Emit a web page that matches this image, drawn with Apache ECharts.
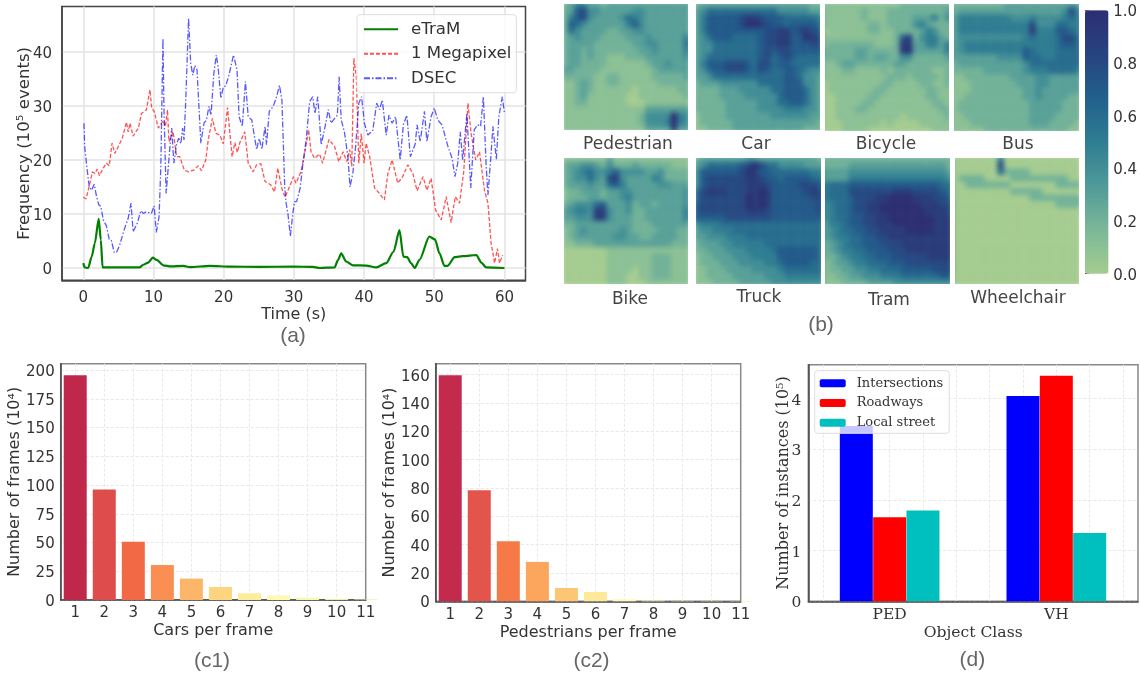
<!DOCTYPE html>
<html><head><meta charset="utf-8">
<style>html,body{margin:0;padding:0;background:#fff}#c{width:1140px;height:674px}</style>
<script src="https://cdn.jsdelivr.net/npm/echarts@6/dist/echarts.min.js"></script>
</head><body><div id="c"></div>
<script>
const dsecTime=[0.1,0.2,0.5,0.85,1.2,1.55,1.9,2.2,2.5,2.85,3.3,3.7,4,4.4,4.75,5.2,5.8,6.4,6.8,7.1,7.7,8.2,8.55,9,9.7,10.1,10.4,10.8,11.05,11.35,11.5,11.8,12,12.35,12.6,12.9,13.3,13.6,13.9,14.15,14.35,14.6,15,15.3,15.6,15.9,16.2,16.5,16.75,17.2,17.55,17.9,18.2,18.6,18.95,19.2,19.6,19.95,20.3,20.75,21.4,21.9,22.2,22.65,23.1,23.5,24,24.7,25.05,25.45,25.9,26.1,26.5,27.05,27.5,27.95,28.3,28.7,28.9,29.15,29.5,29.85,30.1,30.4,30.9,31.3,31.75,32.25,32.7,33,33.4,33.9,34.5,34.9,35.3,35.8,36.2,36.45,36.75,37.2,37.7,38,38.4,38.8,39.25,39.65,40.05,40.55,41.25,41.8,42.2,42.6,43.15,43.55,44,44.5,45.15,45.6,46.1,46.6,47.3,47.55,48,48.6,48.95,49.55,50,50.5,51.1,51.95,52.55,52.95,53.35,53.7,54.05,54.65,54.9,55.2,55.7,56.2,56.6,57,57.4,57.65,58.1,58.35,58.85,59.2,59.7,60];
const dsecFreq=[26.8,22.5,18.8,15,14.4,15.5,13.2,11.7,11.4,8.9,7.8,5.3,5.1,2.9,2.9,4.3,7,9.2,12,6.7,8.3,10.6,10.1,10.4,10.1,11.5,6.6,9.5,18.8,42.5,29.3,13.8,16.9,22.5,25.9,19.4,23,24,23,25.9,23.7,31,46.2,37.9,35.7,37.5,36.7,29.3,23.1,26.8,27.4,29.9,28.3,36,39.4,37.3,31.4,33.5,33.7,35.7,39.4,36.7,28,26.2,34.5,28,27.4,21.9,24,22,26.2,22.8,29,29.9,31.5,33.8,31.1,15,12,10.1,5.9,10.1,12.3,12.3,14.8,19.4,23.7,30.8,31.7,28.6,31.7,22.8,26.5,29.3,26.8,27.7,28.3,35.4,27.4,25.2,20.6,15,17.5,22.5,30.5,31.7,26.8,24.6,25.5,30.5,29.3,31.1,24.6,28.3,26.8,28,20,26.5,28.3,20.6,23,26.5,23.4,29,23.4,28,29.6,27.4,26.5,22.5,20.3,16.9,19.4,25.2,20,28.6,28.6,14.8,25.6,26.5,26.2,31.7,18.8,13.5,21.2,26.2,20.1,28,31.7,28.6];
const megaTime=[0,0.4,0.95,1.3,1.65,2,2.3,2.85,3.3,3.7,4.1,4.5,5,5.55,6.15,6.4,6.65,7.1,7.85,8.3,9,9.5,9.75,10.1,10.7,11.4,11.7,12,12.2,12.8,13.3,13.75,14.4,15,15.7,16.4,16.85,17.45,17.8,18.4,18.9,19.45,19.95,20.55,21.2,21.6,21.95,22.3,23,23.5,24.2,24.7,25.3,25.9,26.7,27.25,27.7,28.35,28.75,29.4,29.95,30.3,31,31.5,32.1,32.45,32.95,33.65,34.1,35,35.8,36.4,37,37.55,37.95,38.25,38.55,38.9,39.25,39.6,40,40.3,40.8,41.5,42.2,42.9,43.4,44,44.8,45.5,46.25,46.95,47.55,48.4,48.95,49.55,50.2,51,51.7,52.4,53,53.6,54.2,54.8,55.25,55.9,56.45,57.15,57.65,58.1,58.6,59,59.3,59.75];
const megaFreq=[13.1,12.8,15.7,17.8,17.5,18.3,17.1,18.5,19.4,18.9,23.1,21.2,22.5,24,27,25.2,26.8,24.4,25.9,28.6,29.3,33,29.6,29,25.9,27.3,26.2,29.3,23.4,25.2,20.6,20.6,18.1,17.8,18.1,18.9,18,20,23.7,27.7,24.9,24.6,23,29.7,20.6,23.2,21.4,23.2,25.2,19.4,17.8,19.1,19.3,16,15.4,14.1,18.5,14.4,13.1,15.1,16.9,15.7,17.8,20.9,25.6,21.5,20.3,21.1,19.4,23.8,22.5,19.7,21.5,19.7,21.9,18.8,38.8,35.4,19.4,24.9,19.4,23.1,20.6,14.8,13.8,12.6,17.5,20,15.7,16.9,19.1,17.5,14.3,16.9,14.4,16.6,10.7,8.9,13.2,8.4,13.2,12,17.8,30.5,24.9,20,21.5,14.4,12,4.6,0.9,3.6,0.9,2.4];
const etramTime=[0,0.2,0.7,1.2,1.65,2.2,2.5,2.75,8,8.55,9.25,9.9,10.45,11.4,12.5,14.25,15.2,18,21,25,30,32.7,33.65,35.8,36.3,36.75,37.45,38.4,40.3,41.75,43.15,44.2,45.05,45.6,46.15,46.7,47.2,47.9,49.3,50.1,50.75,51.45,51.9,52.9,54.05,56,56.7,57.4,60];
const etramFreq=[0.9,0.1,0,2.1,4.6,9.1,5.2,0.1,0.1,0.6,1,1.9,1.5,0.5,0.3,0.4,0.15,0.4,0.25,0.2,0.25,0.2,0,0.1,1.5,2.7,1.2,0.5,0.45,0.1,0.9,3,7,2.1,2,0.9,0,1.5,5.8,5.3,2.7,0.4,0.4,2,2.2,2.4,1,0.1,0];
const timeTicks=[0,10,20,30,40,50,60];
const freqTicks=[0,10,20,30,40];

const perFrame=[1,2,3,4,5,6,7,8,9,10,11];
const carsFrames=[195.4,96.2,50.7,30.4,18.6,11.3,5.8,4,2,0.9,0.5];
const pedFrames=[159.5,78.4,42.4,27.8,9.4,6.6,1.4,0.5,0.2,0.2,0.2];
const carsTicks=[0,25,50,75,100,125,150,175,200];
const pedTicks=[0,20,40,60,80,100,120,140,160];
const carsColors=['#bf274b','#de4c4b','#f26a45','#fb8f53','#fdb56a','#fed57f','#fdec9b','#fefab4','#f5f9ae','#e6f4a0','#d8efa0'];
const pedColors=['#c32a4b','#e3544a','#f67a48','#fca55d','#fdc675','#fee999','#fefbb9','#f5f9ae','#e6f4a0','#d8efa0','#c8e9a0'];

const classNames=['PED','VH'];
const intersections=[3.46,4.05];
const roadways=[1.66,4.45];
const localStreet=[1.79,1.35];
const instanceTicks=[0,1,2,3,4];

const rampColors=['#a5cc90','#7bb898','#4f9a98','#2f7d92','#21608c','#274380','#2c2e72'];

const heatPedestrian=["23553323333333333333","23784433333443333333","25784333346543333333","27643333335743333333","26433332233443333333","23433322223334333335","23333222222334433336","23323222222233433335","23323221112223333334","23322221111112334333","33222211111111233333","22222112211111222223","11232112211111122222","11232111111011111122","11231111110011111112","11221111110001111111","11111111111113333333","11111111111124444a54","11111111111124445a54","11111111111113333933"];
const heatCar=["23333333333333333322","34666666666664444433","35777778998777666665","35777778aa9877677776","35777777777889978987","34677766667889977a98","34466666667889977788","34466666667878877777","34666666667867876666","35777888768867766666","34677888768766776544","33466666666666776443","23334444446666777443","22223334444466777643","22223333444446777643","22222333334446677643","22222333334444555443","12222333333344444433","12222233333333333332","11222233333333333222"];
const heatBicycle=["11111111111122222222","11111121112222222223","11111121112222333524","11111112212222453222","01111112211222235422","11111111111279245532","12222222111299335535","2222233222229a333335","22222332332244222223","11233222222332222222","11122111121222222112","11111111112221222212","01111111122111122112","01111111221111112211","00111112211111112211","00111122111111111221","00111221111111111122","00111111111101111112","00011111101000011111","00011110000000000111"];
const heatBus=["22222222333333333343","23333333333333333485","35555555544454444565","35555555555584446655","35555555555595557765","34444444444565556886","34555555555555556776","34555555555765556666","33333334444766556666","23333333333466666666","22222333333455566665","11222222233334433333","11122222223334433333","11122222222334333333","11222222222334333322","12222222222233333222","12222222222233333222","11222222222233332222","11122222222233322221","11111222222222222211"];
const heatBike=["11111113111111111111","23344324222322222111","23456445744443342222","23446438943333542222","23334336753333344333","12233323344333333334","12223323345333333334","23444673334233233334","34554994334223333335","33444994333223333335","22333333333222333333","12343333343222233322","12333333443322333322","11222333333333333222","00000001111111111111","00000001111111222111","00000001111111222111","00000001111011222111","00000001110011222111","00000001110001111111"];
const heatTruck=["23333333443333333332","346666678a8664444333","47777778a97766666655","47888888998776777766","47888888999877778887","6899988899a977777898","68888888a9a977777788","78888888a9a977777778","78888888999877777778","77777888888877777777","45556666666666666666","34455566666666666666","33444555666666666666","23334455555666666666","22333444555567777776","12233344455557777776","12223334444556777766","11222333344445666666","11222233333444555555","11122223333344444444"];
const heatTram=["22222222222222222222","22223333333333333332","33334444444444444443","33335555555555555554","56667777777777777766","56668888888999888876","5666788899aaaa999887","456678899aaaaaa99988","456678899aaaaaaa9998","4566778899aaaaaaa999","35567788999aaaaaa999","3456677889999aaaa999","34556677889999999999","23456677788899999999","23455667778889999999","22345566777888889999","12334556667778888888","12233445566677777888","11223344455566666677","11122223333444444444"];
const heatWheelchair=["00000005000000000000","00000008000000000000","00000006222200000000","02222000022222222200","00222222200000002222","00000000022222000000","00000000000022222222","00000000000000002222","00000000000000000000","00000000000000000000","00000000000000000000","00000000000000000000","00000000000000000000","00000000000000000000","00000000000000000000","00000000000000000000","00000000000000000000","00000000000000000000","00000000000000000000","00000000000000000000"];

const heatPanels=[
 {name:'Pedestrian',rows:heatPedestrian,box:[564,4,124,126],lab:[628,145]},
 {name:'Car',rows:heatCar,box:[696,4,124,126],lab:[756,145]},
 {name:'Bicycle',rows:heatBicycle,box:[825,4,124,127],lab:[886,145]},
 {name:'Bus',rows:heatBus,box:[954,4,125,127],lab:[1018,145]},
 {name:'Bike',rows:heatBike,box:[564,158,124,126],lab:[630,300]},
 {name:'Truck',rows:heatTruck,box:[696,158,125,126],lab:[759,298]},
 {name:'Tram',rows:heatTram,box:[825,158,125,126],lab:[889,301]},
 {name:'Wheelchair',rows:heatWheelchair,box:[955,158,124,126],lab:[1018,299]}
];

const SANS='"DejaVu Sans"',SERIF='"DejaVu Serif"',CAP='"Liberation Sans"';
const ink='#333';
function boxGrid(l,t,r,b,col){return {left:l,top:t,width:r-l,height:b-t,show:true,borderColor:col||'#888',borderWidth:1.5,backgroundColor:'transparent',containLabel:false};}
function valAxis(o){
 const f=o.font||SANS,fs=o.fs||15,left=o.pos==='left';
 const label={show:true,customValues:o.ticks,fontFamily:f,fontSize:fs,color:ink,margin:o.margin||7,formatter:o.fmt,hideOverlap:false,showMinLabel:true,showMaxLabel:true};
 if(left){label.formatter=v=>'{t|'+v+'}';label.rich={t:{padding:[4,0,0,0],fontFamily:f,fontSize:fs,color:ink}};}
 return {type:'value',gridIndex:o.g,min:o.min,max:o.max,position:o.pos,
  name:o.name,nameLocation:'middle',nameGap:o.gap,nameMoveOverlap:false,nameTextStyle:{fontFamily:f,fontSize:o.nfs||16,color:ink},
  axisLine:{show:true,onZero:false,lineStyle:{color:'#444',width:1.5}},
  axisTick:{show:false,customValues:o.grid||o.ticks},
  axisLabel:label,
  splitLine:{show:true,lineStyle:{color:o.lineColor||'#e3e3e3',width:o.lineW||1.5,type:o.dash?[3,2]:'solid'}}};
}
const grids=[
 boxGrid(62,6.5,525.5,280.3,'#444'),
 boxGrid(60.7,363.7,365.7,600),
 boxGrid(435.7,363.7,740.7,601.3),
 boxGrid(808.3,364.7,1138,601.3),
 {left:1085,top:10.3,width:23.5,height:263.4,show:false}
];
const xAxes=[
 valAxis({g:0,min:-3.03,max:63,ticks:timeTicks,name:'Time (s)',gap:27,margin:10,pos:'bottom'}),
 valAxis({g:1,min:0.5,max:11,ticks:perFrame,grid:perFrame.slice(0,10),name:'Cars per frame',gap:23,fs:15,nfs:16,margin:6,dash:true,lineW:1,lineColor:'#e8e8e8',pos:'bottom'}),
 valAxis({g:2,min:0.5,max:11,ticks:perFrame,grid:perFrame.slice(0,10),name:'Pedestrians per frame',gap:23.5,fs:15,nfs:16,margin:6,dash:true,lineW:1,lineColor:'#e8e8e8',pos:'bottom'}),
 valAxis({g:3,min:-0.488,max:1.49,ticks:[0,1],grid:[-0.4,-0.2,0,0.2,0.4,0.6,0.8,1,1.2,1.4],fmt:v=>classNames[Math.round(v)],name:'Object Class',gap:24,font:SERIF,fs:15.5,nfs:15.6,margin:6,dash:true,lineW:1,lineColor:'#e8e8e8',pos:'bottom'}),
 {type:'value',gridIndex:4,min:0,max:1,show:false}
];
const yAxes=[
 valAxis({g:0,min:-2.28,max:48.4,ticks:freqTicks,name:'Frequency (10⁵ events)',gap:29,margin:10,nfs:16.6,pos:'left'}),
 valAxis({g:1,min:0,max:205.5,ticks:carsTicks,name:'Number of frames (10⁴)',gap:38,margin:6,dash:true,lineW:1,lineColor:'#e8e8e8',nfs:16,pos:'left'}),
 valAxis({g:2,min:0,max:167.7,ticks:pedTicks,name:'Number of frames (10⁴)',gap:38,margin:6,dash:true,lineW:1,lineColor:'#e8e8e8',nfs:16,pos:'left'}),
 valAxis({g:3,min:0,max:4.67,ticks:instanceTicks,name:'Number of instances (10⁵)',gap:16,font:SERIF,margin:7,fs:15.5,nfs:16,dash:true,lineW:1,lineColor:'#e8e8e8',pos:'left'}),
 {type:'value',gridIndex:4,min:0,max:1,position:'right',interval:0.2,
  axisLine:{show:false},axisTick:{show:true,length:4,lineStyle:{color:'#555'}},splitLine:{show:false},
  axisLabel:{margin:7,formatter:v=>'{t|'+v.toFixed(1)+'}',rich:{t:{padding:[4,0,0,0],fontFamily:SANS,fontSize:15,color:ink}}}}
];
const series=[
 {name:'eTraM',type:'line',xAxisIndex:0,yAxisIndex:0,symbol:'none',smooth:0.25,smoothMonotone:'x',data:etramTime.map((t,i)=>[t,etramFreq[i]]),lineStyle:{color:'#008000',width:2.2},itemStyle:{color:'#008000'},z:4},
 {name:'1 Megapixel',type:'line',xAxisIndex:0,yAxisIndex:0,symbol:'none',data:megaTime.map((t,i)=>[t,megaFreq[i]]),lineStyle:{color:'rgba(255,0,0,0.68)',width:1.3,type:[4,2]},itemStyle:{color:'rgba(255,0,0,0.68)'},z:3},
 {name:'DSEC',type:'line',xAxisIndex:0,yAxisIndex:0,symbol:'none',data:dsecTime.map((t,i)=>[t,dsecFreq[i]]),lineStyle:{color:'rgba(0,0,255,0.65)',width:1.3,type:[6,2,1.5,2]},itemStyle:{color:'rgba(0,0,255,0.65)'},z:3},
 {name:'cars',type:'bar',xAxisIndex:1,yAxisIndex:1,barWidth:23,data:perFrame.map((k,i)=>({value:[k,carsFrames[i]],itemStyle:{color:carsColors[i]}}))},
 {name:'pedestrians',type:'bar',xAxisIndex:2,yAxisIndex:2,barWidth:23,data:perFrame.map((k,i)=>({value:[k,pedFrames[i]],itemStyle:{color:pedColors[i]}}))},
 {name:'Intersections',type:'bar',xAxisIndex:3,yAxisIndex:3,barWidth:33,barGap:'1%',data:classNames.map((c,i)=>[i,intersections[i]]),itemStyle:{color:'#0000ff'}},
 {name:'Roadways',type:'bar',xAxisIndex:3,yAxisIndex:3,barWidth:33,barGap:'1%',data:classNames.map((c,i)=>[i,roadways[i]]),itemStyle:{color:'#ff0000'}},
 {name:'Local street',type:'bar',xAxisIndex:3,yAxisIndex:3,barWidth:33,barGap:'1%',data:classNames.map((c,i)=>[i,localStreet[i]]),itemStyle:{color:'#00bfbf'}}
];
const heatSeriesIdx=[];
const bleed=2.3;
heatPanels.forEach(p=>{
 const gi=grids.length;
 grids.push({left:p.box[0]-bleed,top:p.box[1]-bleed,width:p.box[2]+2*bleed,height:p.box[3]+2*bleed,show:false,zlevel:-1});
 const cats=[...Array(p.rows[0].length).keys()],rowsCats=[...Array(p.rows.length).keys()];
 xAxes.push({type:'category',gridIndex:gi,data:cats,show:false,zlevel:-1});
 yAxes.push({type:'category',gridIndex:gi,data:rowsCats,inverse:true,show:false,zlevel:-1});
 const data=[];
 p.rows.forEach((row,r)=>{for(let c=0;c<row.length;c++)data.push([c,r,parseInt(row[c],11)/10]);});
 heatSeriesIdx.push(series.length);
 series.push({name:p.name,type:'heatmap',xAxisIndex:gi,yAxisIndex:gi,data,zlevel:-1,silent:true,progressive:0,emphasis:{disabled:true}});
});
function cap(t,x,y){return {type:'text',x,y,silent:true,style:{text:t,fontFamily:CAP,fontSize:21,fill:'#666',align:'center',verticalAlign:'middle'}};}
const graphics=[cap('(a)',293,336),cap('(b)',821,325),cap('(c1)',212,661),cap('(c2)',591.5,661),cap('(d)',972.3,660)];
heatPanels.forEach(p=>graphics.push({type:'text',x:p.lab[0],y:p.lab[1],silent:true,style:{text:p.name,fontFamily:SANS,fontSize:17,fill:'#444',align:'center',verticalAlign:'middle'}}));

const option={
 animation:false,backgroundColor:'transparent',grid:grids,xAxis:xAxes,yAxis:yAxes,series,
 legend:[
  {data:['eTraM','1 Megapixel','DSEC'],left:357,top:14.7,orient:'vertical',align:'left',itemWidth:34,itemHeight:14,itemGap:7.5,padding:[6,5,6,6],
   backgroundColor:'rgba(255,255,255,0.82)',borderColor:'#ddd',borderWidth:1,borderRadius:3,selectedMode:false,itemStyle:{opacity:0},
   textStyle:{fontFamily:SANS,fontSize:16.6,color:ink,padding:[0,0,0,8]}},
  {data:['Intersections','Roadways','Local street'],left:814.7,top:370.7,orient:'vertical',align:'left',itemWidth:26,itemHeight:8,itemGap:6.8,padding:[6,6,4,5],
   backgroundColor:'rgba(255,255,255,0.78)',borderColor:'#ddd',borderWidth:1,borderRadius:3,selectedMode:false,
   textStyle:{fontFamily:SERIF,fontSize:13,color:ink,padding:[0,0,0,6]}}
 ],
 visualMap:{type:'continuous',min:0,max:1,seriesIndex:heatSeriesIdx,left:1085,top:10.3,itemWidth:23.5,itemHeight:263.4,padding:0,calculable:false,realtime:false,hoverLink:false,text:null,showLabel:false,inRange:{color:rampColors},formatter:()=>''},
 graphic:{elements:graphics}
};
const chart=echarts.init(document.getElementById('c'),null,{renderer:'canvas',width:1140,height:674});
chart.setOption(option);
const cvs=document.querySelectorAll('#c canvas');
if(cvs.length>1){
 cvs[0].style.filter='blur(2.4px)';
 cvs[0].style.clipPath="path('"+heatPanels.map(p=>`M${p.box[0]} ${p.box[1]}h${p.box[2]}v${p.box[3]}h${-p.box[2]}z`).join(' ')+"')";
}
</script></body></html>
